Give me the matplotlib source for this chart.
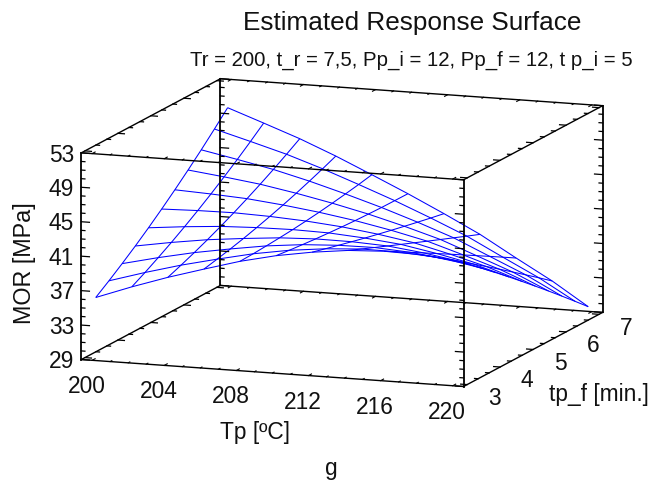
import numpy as np
import matplotlib
matplotlib.use("Agg")
import matplotlib.pyplot as plt
from mpl_toolkits.mplot3d import proj3d

plt.rcParams['font.family'] = ['Liberation Sans', 'DejaVu Sans']

W, H = 660, 481

# grid of the surface
tp = [200, 202, 204, 206, 208, 210, 212, 214, 216, 218, 220]
tp_f = [3.0, 3.4, 3.8, 4.2, 4.6, 5.0, 5.4, 5.8, 6.2, 6.6, 7.0]

# MOR, one row per tp value, one column per tp_f value
mor = [
    [36.07, 37.19, 38.37, 39.60, 40.90, 42.26, 43.68, 45.16, 46.69, 48.29, 49.95],
    [37.60, 38.45, 39.36, 40.31, 41.32, 42.38, 43.49, 44.66, 45.87, 47.14, 48.46],
    [39.00, 39.60, 40.24, 40.92, 41.65, 42.42, 43.24, 44.10, 45.00, 45.95, 46.94],
    [40.25, 40.59, 40.96, 41.36, 41.81, 42.29, 42.80, 43.35, 43.94, 44.56, 45.22],
    [41.45, 41.51, 41.61, 41.73, 41.87, 42.05, 42.25, 42.49, 42.75, 43.03, 43.35],
    [42.40, 42.21, 42.05, 41.90, 41.78, 41.67, 41.58, 41.52, 41.47, 41.45, 41.44],
    [43.10, 42.68, 42.27, 41.87, 41.48, 41.11, 40.75, 40.40, 40.06, 39.73, 39.42],
    [43.60, 42.95, 42.31, 41.67, 41.04, 40.41, 39.78, 39.16, 38.54, 37.92, 37.31],
    [43.80, 42.92, 42.04, 41.16, 40.27, 39.38, 38.48, 37.58, 36.68, 35.77, 34.86],
    [43.70, 42.63, 41.55, 40.46, 39.36, 38.25, 37.12, 35.98, 34.83, 33.67, 32.49],
    [43.30, 42.04, 40.76, 39.46, 38.14, 36.80, 35.44, 34.06, 32.66, 31.24, 29.80],
]

x_labels = [200, 204, 208, 212, 216, 220]
y_labels = [3, 4, 5, 6, 7]
z_labels = [29, 33, 37, 41, 45, 49, 53]
x_minor = list(range(200, 221))
y_minor = [3 + k / 3 for k in range(13)]
z_minor = list(range(29, 54))

XLIM = (199.4, 220.6)
YLIM = (2.89, 7.11)
ZLIM = (29, 53)

fig = plt.figure(figsize=(W / 100, H / 100), dpi=100)
side = 594.7
ax = fig.add_axes([36.6 / W, -58 / H, side / W, side / H], projection='3d',
                  proj_type='ortho', computed_zorder=False)
ax.view_init(elev=11.18, azim=-70)
ax.set_xlim(*XLIM, view_margin=0)
ax.set_ylim(*YLIM, view_margin=0)
ax.set_zlim(*ZLIM, view_margin=0)
ax.set_box_aspect((1, 1, 0.518))
ax.set_axis_off()

X, Y = np.meshgrid(tp, tp_f, indexing='ij')
ax.plot_wireframe(X, Y, np.array(mor), rstride=1, cstride=1, color='#0000ff', linewidth=0.75)

# box
for y in YLIM:
    for z in ZLIM:
        ax.plot(XLIM, [y, y], [z, z], color='k', lw=1.0)
for x in XLIM:
    for z in ZLIM:
        ax.plot([x, x], YLIM, [z, z], color='k', lw=1.0)
    for y in YLIM:
        ax.plot([x, x], [y, y], ZLIM, color='k', lw=1.3)

# ticks on z edges, pointing inward along x
for x, sign in [(XLIM[0], 1), (XLIM[1], -1)]:
    for y in YLIM:
        for z in z_minor:
            ln = 0.45 if z in z_labels else 0.2
            ax.plot([x, x + sign * ln], [y, y], [z, z], color='k', lw=0.9)

# ticks on the x edges, pointing inward along y
for y, sign in [(YLIM[0], 1), (YLIM[1], -1)]:
    for z in ZLIM:
        for x in x_minor:
            ln = 0.09 if x in x_labels else 0.05
            ax.plot([x, x], [y, y + sign * ln], [z, z], color='k', lw=0.8)

# ticks on the y edges, pointing inward along x
for x, sign in [(XLIM[0], 1), (XLIM[1], -1)]:
    for z in ZLIM:
        for y in y_minor:
            ln = 0.36 if abs(y - round(y)) < 0.01 else 0.2
            ax.plot([x, x + sign * ln], [y, y], [z, z], color='k', lw=0.9)


# tick labels go through the 3d projection, then are plain 2d text
def label3d(x, y, z, s, **kw):
    px, py, _ = proj3d.proj_transform(x, y, z, ax.get_proj())
    ax.text2D(px, py, s, transform=ax.transData, fontsize=16.4, color='#111111', va='center', **kw)


for v in x_labels:
    label3d(v - 0.3, YLIM[0], 26.0, str(v), ha='center')
for v in y_labels:
    label3d(222.1, v, 27.75, str(v), ha='center')
for v in z_labels:
    label3d(199.0, YLIM[0], v - 0.2, str(v), ha='right')


def put(px, py, s, **kw):
    fig.text(px / W, 1 - py / H, s, ha='center', va='center', color='#111111', **kw)


put(412, 23, 'Estimated Response Surface', fontsize=18.8)
put(411, 60, 'Tr = 200, t_r = 7,5, Pp_i = 12, Pp_f = 12, t p_i = 5', fontsize=14.65)
put(25, 263.5, 'MOR [MPa]', fontsize=16.8, rotation=90)
put(255, 432, 'Tp [ºC]', fontsize=16.4)
put(599, 395, 'tp_f [min.]', fontsize=16.4)
put(331, 469, 'g', fontsize=16.4)

fig.savefig('out.png', dpi=100)
